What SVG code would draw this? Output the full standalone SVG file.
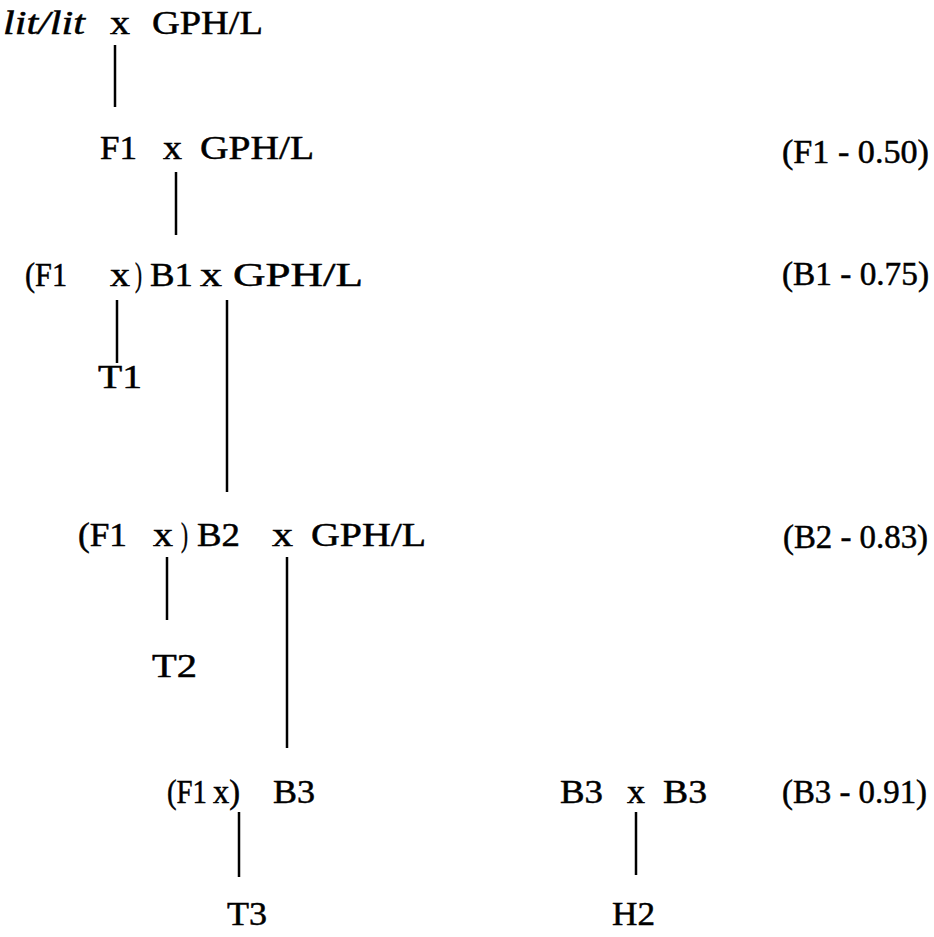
<svg xmlns="http://www.w3.org/2000/svg" width="934" height="937" viewBox="0 0 934 937">
<style>
text{font-family:"Liberation Serif","Times New Roman",serif;font-size:33px;fill:#000;stroke:#000;stroke-width:0.5}
.i{font-style:italic}
.c line{stroke:#000;stroke-width:2.5}
</style>
<rect width="934" height="937" fill="#fff"/>
<g id="n1">
<text x="3" y="34" class="i" textLength="82" lengthAdjust="spacingAndGlyphs">lit/lit</text>
<text x="110" y="34" textLength="20" lengthAdjust="spacingAndGlyphs">x</text>
<text x="152" y="34" textLength="111" lengthAdjust="spacingAndGlyphs">GPH/L</text>
</g>
<g id="n2">
<text x="100" y="159" textLength="37" lengthAdjust="spacingAndGlyphs">F1</text>
<text x="163" y="159" textLength="19" lengthAdjust="spacingAndGlyphs">x</text>
<text x="200" y="159" textLength="114" lengthAdjust="spacingAndGlyphs">GPH/L</text>
</g>
<g id="l1"><text x="782" y="163" textLength="147" lengthAdjust="spacingAndGlyphs">(F1 - 0.50)</text></g>
<g id="n3">
<text x="25" y="286" textLength="42" lengthAdjust="spacingAndGlyphs">(F1</text>
<text x="110" y="286" textLength="20" lengthAdjust="spacingAndGlyphs">x</text>
<text x="135" y="286" textLength="7" lengthAdjust="spacingAndGlyphs">)</text>
<text x="150" y="286" textLength="43" lengthAdjust="spacingAndGlyphs">B1</text>
<text x="200" y="286" textLength="22" lengthAdjust="spacingAndGlyphs">x</text>
<text x="233" y="286" textLength="130" lengthAdjust="spacingAndGlyphs">GPH/L</text>
</g>
<g id="l2"><text x="782" y="285" textLength="147" lengthAdjust="spacingAndGlyphs">(B1 - 0.75)</text></g>
<g id="t1"><text x="98" y="388" textLength="44" lengthAdjust="spacingAndGlyphs">T1</text></g>
<g id="n4">
<text x="78" y="546" textLength="49" lengthAdjust="spacingAndGlyphs">(F1</text>
<text x="153" y="546" textLength="20" lengthAdjust="spacingAndGlyphs">x</text>
<text x="181" y="546" textLength="7" lengthAdjust="spacingAndGlyphs">)</text>
<text x="197" y="546" textLength="43" lengthAdjust="spacingAndGlyphs">B2</text>
<text x="272" y="546" textLength="21" lengthAdjust="spacingAndGlyphs">x</text>
<text x="311" y="546" textLength="115" lengthAdjust="spacingAndGlyphs">GPH/L</text>
</g>
<g id="l3"><text x="783" y="548" textLength="145" lengthAdjust="spacingAndGlyphs">(B2 - 0.83)</text></g>
<g id="t2"><text x="152" y="677" textLength="45" lengthAdjust="spacingAndGlyphs">T2</text></g>
<g id="n5">
<text x="167" y="803" textLength="40" lengthAdjust="spacingAndGlyphs">(F1</text>
<text x="213" y="803" textLength="27" lengthAdjust="spacingAndGlyphs">x)</text>
<text x="273" y="803" textLength="42" lengthAdjust="spacingAndGlyphs">B3</text>
</g>
<g id="n6">
<text x="560" y="803" textLength="43" lengthAdjust="spacingAndGlyphs">B3</text>
<text x="627" y="803" textLength="18" lengthAdjust="spacingAndGlyphs">x</text>
<text x="663" y="803" textLength="44" lengthAdjust="spacingAndGlyphs">B3</text>
</g>
<g id="l4"><text x="782" y="803" textLength="145" lengthAdjust="spacingAndGlyphs">(B3 - 0.91)</text></g>
<g id="t3"><text x="227" y="925" textLength="40" lengthAdjust="spacingAndGlyphs">T3</text></g>
<g id="h2"><text x="612" y="925" textLength="43" lengthAdjust="spacingAndGlyphs">H2</text></g>
<g class="c" id="connectors">
<line x1="115" y1="45" x2="115" y2="107"/>
<line x1="176" y1="172" x2="176" y2="235"/>
<line x1="117" y1="300" x2="117" y2="363"/>
<line x1="227" y1="300" x2="227" y2="492"/>
<line x1="167" y1="557" x2="167" y2="620"/>
<line x1="287" y1="557" x2="287" y2="748"/>
<line x1="239" y1="812" x2="239" y2="877"/>
<line x1="636" y1="812" x2="636" y2="875"/>
</g>
</svg>
